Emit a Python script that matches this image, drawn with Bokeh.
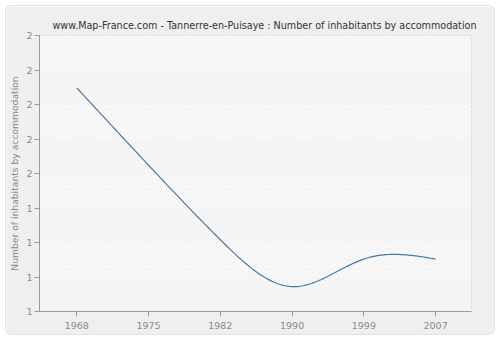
import numpy as np
from bokeh.plotting import figure
from bokeh.models import FixedTicker
from bokeh.embed import file_html
from bokeh.resources import INLINE

years = ["1968", "1975", "1982", "1990", "1999", "2007"]
values = [1.81, 1.53, 1.26, 1.09, 1.19, 1.19]
y_ticks = [1.0, 1.125, 1.25, 1.375, 1.5, 1.625, 1.75, 1.875, 2.0]
y_tick_labels = ["1", "1", "1", "1", "2", "2", "2", "2", "2"]

xs = np.arange(len(years), dtype=float)
ys = np.array(values, dtype=float)

# natural cubic spline through the data points (rendering of smooth line)
n = len(xs)
h = np.diff(xs)
A = np.zeros((n, n))
b = np.zeros(n)
A[0, 0] = 1
A[-1, -1] = 1
for i in range(1, n - 1):
    A[i, i - 1] = h[i - 1]
    A[i, i] = 2 * (h[i - 1] + h[i])
    A[i, i + 1] = h[i]
    b[i] = 3 * ((ys[i + 1] - ys[i]) / h[i] - (ys[i] - ys[i - 1]) / h[i - 1])
c = np.linalg.solve(A, b)
sx, sy = [], []
for i in range(n - 1):
    bi = (ys[i + 1] - ys[i]) / h[i] - h[i] * (2 * c[i] + c[i + 1]) / 3
    di = (c[i + 1] - c[i]) / (3 * h[i])
    t = np.linspace(0, h[i], 30, endpoint=(i == n - 2))
    sx.extend(xs[i] + t)
    sy.extend(ys[i] + bi * t + c[i] * t**2 + di * t**3)

FONT = "DejaVu Sans"

p = figure(width=490, height=330, output_backend="svg", toolbar_location=None,
           x_range=(-0.52, 5.5), y_range=(1.0, 2.0),
           min_border_left=30, min_border_right=25, min_border_top=29, min_border_bottom=25,
           title="www.Map-France.com - Tannerre-en-Puisaye : Number of inhabitants by accommodation")
p.styles = {"margin-left": "5px", "margin-top": "5px", "border-radius": "6px",
            "border": "1px solid #e2e2e2", "overflow": "hidden"}
p.border_fill_color = "#efefef"
p.background_fill_color = "#fbfbfb"
p.outline_line_color = "#dddddd"

p.title.text_font = FONT
p.title.text_font_size = "9.6px"
p.title.text_font_style = "normal"
p.title.text_color = "#333333"
p.title.align = "left"
p.title.offset = 13

# alternating hatched bands
band_bottoms = y_ticks[:-1]
band_tops = y_ticks[1:]
strong = [i % 2 == 1 for i in range(len(band_bottoms))]
sb = [b_ for b_, s in zip(band_bottoms, strong) if s]
st = [t_ for t_, s in zip(band_tops, strong) if s]
wb = [b_ for b_, s in zip(band_bottoms, strong) if not s]
wt = [t_ for t_, s in zip(band_tops, strong) if not s]
p.quad(left=-0.52, right=5.5, bottom=sb, top=st, fill_color="#ffffff", line_color=None,
       hatch_pattern="/", hatch_color="#e8e8e8", hatch_scale=5, hatch_weight=1)
p.quad(left=-0.52, right=5.5, bottom=wb, top=wt, fill_color="#f8f8f8", line_color=None,
       hatch_pattern="/", hatch_color="#efefef", hatch_scale=5, hatch_weight=1)

p.line(sx, sy, line_color="#4a76a8", line_width=1.2)

p.xaxis.ticker = FixedTicker(ticks=list(xs))
p.xaxis.major_label_overrides = {float(i): y for i, y in enumerate(years)}
p.yaxis.ticker = FixedTicker(ticks=y_ticks)
p.yaxis.major_label_overrides = {t: l for t, l in zip(y_ticks, y_tick_labels)}
p.yaxis.axis_label = "Number of inhabitants by accommodation"

for ax in (p.xaxis, p.yaxis):
    ax.axis_line_color = "#999999"
    ax.major_tick_line_color = "#999999"
    ax.major_tick_out = 5
    ax.major_tick_in = 0
    ax.minor_tick_line_color = None
    ax.major_label_text_font = FONT
    ax.major_label_text_font_size = "9.5px"
    ax.major_label_text_color = "#8a8a8a"
    ax.axis_label_text_font = FONT
    ax.axis_label_text_font_size = "9.2px"
    ax.axis_label_text_font_style = "normal"
    ax.axis_label_text_color = "#8a8a8a"
p.yaxis.major_label_standoff = 2
p.yaxis.axis_label_standoff = 3
p.xaxis.major_label_standoff = 5

for g in (p.xgrid, p.ygrid):
    g.grid_line_color = "#e2e2e2"
    g.grid_line_dash = "5 3"
    g.grid_line_width = 1
p.xgrid.ticker = FixedTicker(ticks=list(xs))
p.ygrid.ticker = FixedTicker(ticks=y_ticks)

open("out.html", "w").write(file_html(p, INLINE))
